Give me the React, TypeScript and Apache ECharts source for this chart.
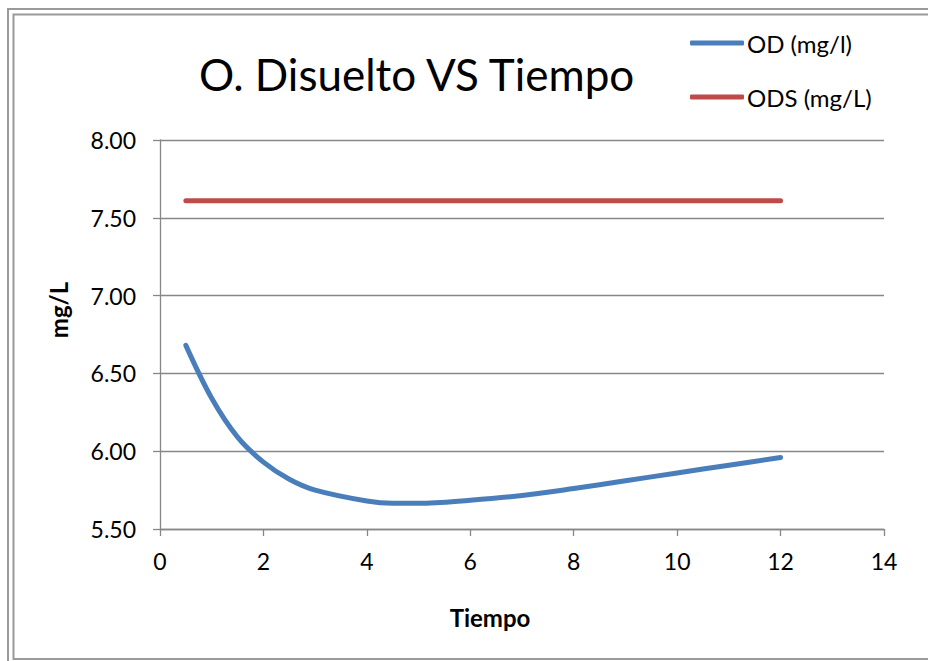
import React, { useEffect, useRef } from "react";
import * as echarts from "echarts";

const tiempo = [0.5, 1, 1.5, 2, 2.5, 3, 4, 4.5, 5, 6, 7, 8, 9, 10, 11, 12];
const od = [6.68, 6.34, 6.09, 5.93, 5.82, 5.75, 5.68, 5.665, 5.665, 5.685, 5.715, 5.76, 5.81, 5.86, 5.91, 5.96];
const ods = [7.61, 7.61, 7.61, 7.61, 7.61, 7.61, 7.61, 7.61, 7.61, 7.61, 7.61, 7.61, 7.61, 7.61, 7.61, 7.61];
const titleText = "O. Disuelto VS Tiempo";
const seriesNames = ["OD (mg/l)", "ODS (mg/L)"];
const xName = "Tiempo";
const yName = "mg/L";

const FONT = "Lato, 'Open Sans', sans-serif";
const GRID_COLOR = "#878787";

export default function App() {
  const ref = useRef<HTMLDivElement>(null);
  useEffect(() => {
    if (!ref.current) return;
    const chart = echarts.init(ref.current, undefined, { renderer: "svg" });
    chart.setOption({
      animation: false,
      backgroundColor: "#ffffff",
      textStyle: { fontFamily: FONT },
      title: {
        text: titleText,
        left: 199,
        top: 52,
        padding: 0,
        textStyle: { fontFamily: FONT, fontSize: 44, fontWeight: "normal", color: "#000" },
      },
      legend: {
        orient: "vertical",
        left: 690,
        top: 31,
        padding: 0,
        itemWidth: 54,
        itemHeight: 5,
        itemGap: 30,
        icon: "roundRect",
        textStyle: { fontFamily: FONT, fontSize: 24, color: "#000", padding: [0, 0, 0, -2] },
        data: seriesNames,
      },
      graphic: [
        {
          type: "rect",
          shape: { x: 8, y: 9, width: 940, height: 670 },
          style: { fill: "none", stroke: "#9a9a9a", lineWidth: 2 },
          silent: true,
        },
        {
          type: "rect",
          shape: { x: 13.5, y: 14.5, width: 930, height: 644.5 },
          style: { fill: "none", stroke: "#9a9a9a", lineWidth: 2 },
          silent: true,
        },
        {
          type: "text",
          x: 490,
          y: 617,
          style: {
            text: xName,
            fontFamily: FONT,
            fontSize: 24,
            fontWeight: "bold",
            fill: "#000",
            align: "center",
            verticalAlign: "middle",
          },
          silent: true,
        },
        {
          type: "text",
          x: 58,
          y: 310,
          rotation: Math.PI / 2,
          style: {
            text: yName,
            fontFamily: FONT,
            fontSize: 24,
            fontWeight: "bold",
            fill: "#000",
            align: "center",
            verticalAlign: "middle",
          },
          silent: true,
        },
      ],
      grid: { left: 160, right: 44, top: 140, bottom: 132, containLabel: false },
      xAxis: {
        type: "value",
        min: 0,
        max: 14,
        interval: 2,
        axisLine: { show: true, onZero: false, lineStyle: { color: GRID_COLOR, width: 1.3 } },
        axisTick: { show: true, length: 7, lineStyle: { color: GRID_COLOR, width: 1.3 } },
        axisLabel: { fontFamily: FONT, fontSize: 23, color: "#000", margin: 20 },
        splitLine: { show: false },
      },
      yAxis: {
        type: "value",
        min: 5.5,
        max: 8,
        interval: 0.5,
        axisLine: { show: true, lineStyle: { color: GRID_COLOR, width: 1.3 } },
        axisTick: { show: true, length: 7, lineStyle: { color: GRID_COLOR, width: 1.3 } },
        axisLabel: {
          fontFamily: FONT,
          fontSize: 23,
          color: "#000",
          margin: 24,
          formatter: (v: number) => v.toFixed(2),
        },
        splitLine: { show: true, lineStyle: { color: GRID_COLOR, width: 1.3 } },
      },
      series: [
        {
          name: seriesNames[0],
          type: "line",
          data: tiempo.map((t, i) => [t, od[i]]),
          smooth: 0.35,
          showSymbol: false,
          symbol: "none",
          lineStyle: { color: "#4a7ebb", width: 5, cap: "round", join: "round" },
          itemStyle: { color: "#4a7ebb" },
        },
        {
          name: seriesNames[1],
          type: "line",
          data: tiempo.map((t, i) => [t, ods[i]]),
          showSymbol: false,
          symbol: "none",
          lineStyle: { color: "#be4b48", width: 5, cap: "round" },
          itemStyle: { color: "#be4b48" },
        },
      ],
    });
    return () => chart.dispose();
  }, []);
  return (
    <div
      ref={ref}
      style={{ position: "absolute", left: 0, top: 0, width: 928, height: 661, overflow: "hidden" }}
    />
  );
}
